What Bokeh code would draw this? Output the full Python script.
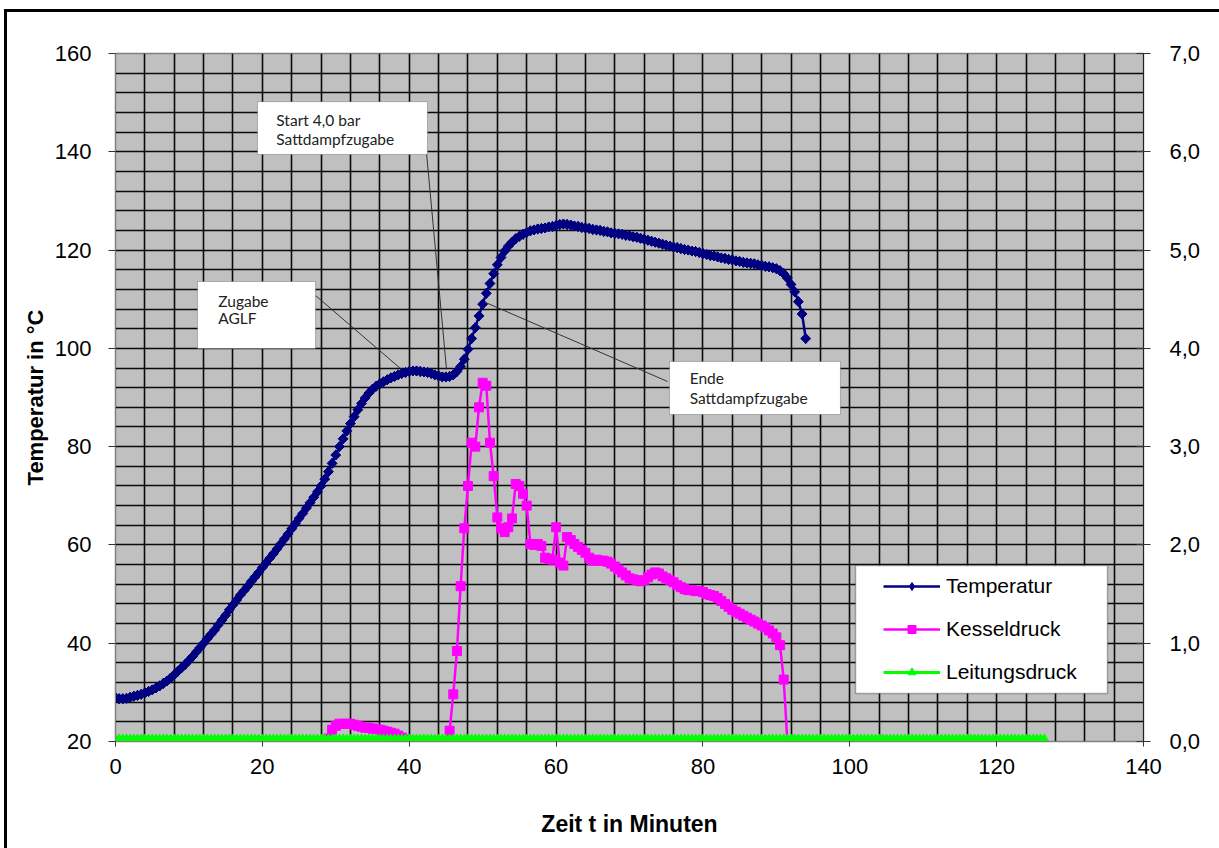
import numpy as np
from bokeh.plotting import figure
from bokeh.models import (Range1d, LinearAxis, FixedTicker, CustomJSTickFormatter,
                          BoxAnnotation, Label, Legend, LegendItem)
from bokeh.layouts import column
from bokeh.embed import file_html
from bokeh.resources import INLINE

# ---- measured series (sampling every 0.5 min) ----
zeit_temp = np.arange(0, 94.5, 0.5)
temperatur = [
    28.9, 28.7, 28.7, 28.8, 29.0, 29.2, 29.4, 29.6, 29.9, 30.2,
    30.5, 30.9, 31.3, 31.8, 32.3, 32.9, 33.6, 34.3, 35.0, 35.7,
    36.5, 37.3, 38.2, 39.1, 40.0, 40.9, 41.8, 42.7, 43.7, 44.7,
    45.7, 46.8, 47.8, 48.8, 49.8, 50.7, 51.6, 52.6, 53.5, 54.4,
    55.4, 56.3, 57.3, 58.2, 59.2, 60.2, 61.2, 62.2, 63.3, 64.3,
    65.4, 66.4, 67.5, 68.6, 69.7, 70.8, 72.0, 73.4, 74.9, 76.6,
    78.3, 80.0, 81.6, 83.2, 84.7, 86.1, 87.5, 88.8, 89.9, 90.9,
    91.7, 92.3, 92.8, 93.2, 93.6, 94.0, 94.3, 94.6, 94.9, 95.1,
    95.3, 95.4, 95.4, 95.3, 95.2, 95.1, 94.9, 94.6, 94.4, 94.2,
    94.2, 94.3, 94.6, 95.3, 96.3, 97.8, 99.8, 102.0, 104.2, 106.6,
    109.0, 111.2, 113.2, 115.2, 117.0, 118.5, 119.8, 120.8, 121.6, 122.3,
    122.8, 123.2, 123.6, 123.9, 124.1, 124.3, 124.4, 124.5, 124.7, 124.8,
    125.0, 125.2, 125.3, 125.2, 125.1, 124.9, 124.8, 124.6, 124.5, 124.4,
    124.2, 124.1, 124.0, 123.8, 123.7, 123.5, 123.4, 123.3, 123.2, 123.0,
    122.9, 122.7, 122.6, 122.4, 122.2, 122.0, 121.8, 121.6, 121.4, 121.2,
    121.0, 120.8, 120.6, 120.5, 120.3, 120.1, 120.0, 119.8, 119.7, 119.5,
    119.3, 119.1, 118.9, 118.8, 118.6, 118.4, 118.3, 118.1, 118.0, 117.8,
    117.7, 117.5, 117.4, 117.3, 117.2, 117.0, 116.9, 116.7, 116.6, 116.4,
    116.2, 115.8, 115.2, 114.3, 113.0, 111.5, 109.5, 107.0, 102.0,
]

zeit_kessel = np.arange(0, 94.5, 0.5)
kesseldruck = (
    [0.0] * 58
    + [0.03, 0.12, 0.16, 0.18, 0.18, 0.18, 0.18, 0.17, 0.16, 0.15,
       0.14, 0.14, 0.13, 0.13, 0.12, 0.11, 0.10, 0.09, 0.08, 0.06,
       0.04, 0.02, 0.0]
    + [0.0] * 10
    + [0.11, 0.48, 0.92, 1.58, 2.17, 2.60, 3.04, 3.00, 3.40, 3.65,
       3.62, 3.04, 2.70, 2.28, 2.17, 2.13, 2.18, 2.27, 2.62, 2.60,
       2.52, 2.40, 2.01, 2.00, 2.01, 1.99, 1.87, 1.86, 1.85, 2.18,
       1.82, 1.79, 2.08, 2.05, 2.01, 1.98, 1.95, 1.92, 1.87, 1.84,
       1.85, 1.84, 1.84, 1.83, 1.81, 1.78, 1.75, 1.72, 1.69, 1.66,
       1.65, 1.64, 1.63, 1.64, 1.67, 1.70, 1.72, 1.71, 1.68, 1.66,
       1.64, 1.62, 1.59, 1.57, 1.55, 1.54, 1.54, 1.53, 1.53, 1.52,
       1.50, 1.49, 1.48, 1.46, 1.43, 1.40, 1.37, 1.34, 1.32, 1.30,
       1.28, 1.26, 1.24, 1.22, 1.20, 1.18, 1.16, 1.13, 1.10, 1.06,
       0.98, 0.63, 0.0]
    + [0.0] * 5
)

zeit_leitung = np.arange(0, 127.0, 0.5)
leitungsdruck = [0.0] * len(zeit_leitung)

x_ticks = [0, 20, 40, 60, 80, 100, 120, 140]
y_ticks = [20, 40, 60, 80, 100, 120, 140, 160]
p_ticks = [0, 1, 2, 3, 4, 5, 6, 7]

FONT = "Liberation Sans"
NOTE_FONT = "Lato"
NAVY = "#000080"
MAGENTA = "#FF00FF"
GREEN = "#00FF00"

p = figure(width=1212, height=836, x_range=Range1d(0, 140), y_range=Range1d(20, 160),
           output_backend="svg", toolbar_location=None,
           min_border_left=108, min_border_right=76, min_border_top=41, min_border_bottom=107,
           background_fill_color="#C0C0C0", border_fill_color="white")
p.outline_line_color = "#808080"
p.outline_line_width = 1.5
p.extra_y_ranges = {"druck": Range1d(0, 7)}

# grid every 4 units in both directions
p.xgrid.ticker = FixedTicker(ticks=list(range(4, 140, 4)))
p.ygrid.ticker = FixedTicker(ticks=list(range(24, 160, 4)))
for g in (p.xgrid, p.ygrid):
    g.grid_line_color = "#0a0a0a"
    g.grid_line_width = 1.6

# axes
p.xaxis.ticker = FixedTicker(ticks=x_ticks)
p.yaxis.ticker = FixedTicker(ticks=y_ticks)
p.xaxis.axis_label = "Zeit t in Minuten"
p.yaxis.axis_label = "Temperatur in °C"

right = LinearAxis(y_range_name="druck", ticker=FixedTicker(ticks=p_ticks),
                   formatter=CustomJSTickFormatter(code="return tick.toFixed(1).replace('.', ',');"))
p.add_layout(right, "right")

for ax in (p.xaxis[0], p.yaxis[0], right):
    ax.major_label_text_font = FONT
    ax.major_label_text_font_size = "22px"
    ax.major_label_text_color = "black"
    ax.axis_line_color = "#808080"
    ax.major_tick_line_color = "#333333"
    ax.minor_tick_line_color = None
    ax.major_tick_in = 0
    ax.major_tick_out = 7
    ax.major_label_standoff = 17
    ax.axis_label_text_font = FONT
    ax.axis_label_text_font_style = "bold"
    ax.axis_label_text_color = "black"

right.major_tick_in = 7
right.major_label_standoff = 19
right.axis_line_color = "#222222"
p.xaxis.major_tick_out = 5
p.xaxis.major_label_standoff = 12
p.xaxis.axis_label_text_font_size = "23px"
p.xaxis.axis_label_standoff = 34
p.yaxis.axis_label_text_font_size = "22px"
p.yaxis.axis_label_standoff = 4

# series
r_t_line = p.line(zeit_temp, temperatur, line_color=NAVY, line_width=2.5)
r_t_key = p.scatter(zeit_temp, temperatur, marker="diamond", size=10,
                    fill_color=NAVY, line_color=NAVY)
r_t_pts = p.scatter(zeit_temp, temperatur, marker="square", size=7, angle=np.pi / 4,
                    fill_color=NAVY, line_color=NAVY)
r_k_line = p.line(zeit_kessel, kesseldruck, y_range_name="druck", line_color=MAGENTA, line_width=2.5)
r_k_pts = p.scatter(zeit_kessel, kesseldruck, y_range_name="druck", marker="square", size=9,
                    fill_color=MAGENTA, line_color=MAGENTA)
r_l_line = p.line(zeit_leitung, leitungsdruck, y_range_name="druck", line_color=GREEN, line_width=3)
r_l_pts = p.scatter(zeit_leitung, leitungsdruck, y_range_name="druck", marker="triangle", size=13,
                    fill_color=GREEN, line_color=GREEN)

# annotation callouts: box, text lines, leader line
callouts = [
    ((19.34, 42.49, 150.2, 139.45), ["Start  4,0 bar", "Sattdampfzugabe"], 21.9, (146.4, 142.7),
     (42.35, 139.86, 45.08, 95.7)),
    ((11.17, 27.24, 113.6, 99.97), ["Zugabe", "AGLF"], 14.0, (109.7, 106.1),
     (27.24, 110.76, 38.81, 95.9)),
    ((75.45, 98.73, 97.33, 86.54), ["Ende", "Sattdampfzugabe"], 78.2, (93.9, 90.0),
     (75.17, 93.26, 50.39, 109.34)),
]
for (l, r, t, b), lines, tx, tys, (x0, y0, x1, y1) in callouts:
    p.segment(x0=[x0], y0=[y0], x1=[x1], y1=[y1], line_color="#333333", line_width=1)
    p.add_layout(BoxAnnotation(left=l, right=r, top=t, bottom=b, fill_color="white", fill_alpha=1,
                               line_color="#333333", line_width=1, level="overlay"))
    for txt, ty in zip(lines, tys):
        p.add_layout(Label(x=tx, y=ty, text=txt, text_font=NOTE_FONT, text_font_size="15.5px",
                           text_color="#222222", text_baseline="middle", level="overlay"))

# legend frame and entries
p.add_layout(BoxAnnotation(left=100.78, right=135.1, top=55.82, bottom=29.77, fill_color="white",
                           fill_alpha=1, line_color="black", line_width=1.5, level="overlay"))
legend = Legend(items=[
    LegendItem(label="Temperatur", renderers=[r_t_line, r_t_key]),
    LegendItem(label="Kesseldruck", renderers=[r_k_line, r_k_pts]),
    LegendItem(label="Leitungsdruck", renderers=[r_l_line, r_l_pts]),
], location=(768, 57), padding=0, spacing=19, glyph_width=57, glyph_height=20,
    label_height=20, label_standoff=6, label_text_font=FONT, label_text_font_size="21px",
    label_text_color="black", background_fill_alpha=0, border_line_alpha=0, margin=0)
p.add_layout(legend, "center")

layout = column(p, styles={"border-left": "3px solid black", "border-top": "3px solid black",
                           "margin-left": "4px", "margin-top": "9px"})

open("out.html", "w").write(file_html(layout, INLINE))
